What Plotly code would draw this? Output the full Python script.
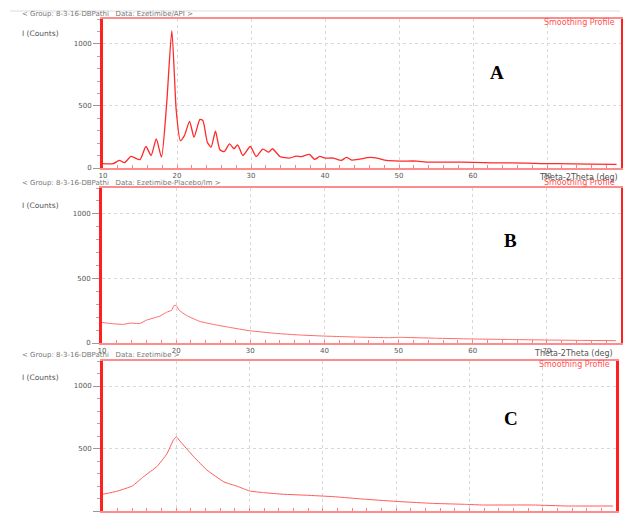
import plotly.graph_objects as go

# ---------------- data ----------------
a_theta = [10.0, 11.35, 12.2, 12.9, 13.8, 15.0, 15.8, 16.5, 17.2, 17.9, 18.6, 19.3, 19.9,
           20.45, 21.0, 21.7, 22.3, 23.1, 23.5, 24.1, 24.6, 25.2, 25.8, 26.4, 27.1, 27.7,
           28.2, 28.9, 29.9, 30.7, 31.6, 32.4, 32.9, 33.9, 35.2, 36.1, 36.8, 37.9, 38.6,
           39.3, 40.0, 41.1, 42.2, 42.9, 43.6, 44.7, 46.1, 47.0, 48.3, 50.1, 52.4, 53.7,
           56.9, 60.0, 62.7, 67.3, 69.5, 71.3, 75.8, 79.4]
a_counts = [35, 35, 61, 43, 93, 67, 173, 101, 235, 88, 515, 1107, 461,
            221, 261, 376, 248, 392, 381, 208, 168, 296, 147, 133, 195, 155,
            187, 101, 173, 93, 152, 128, 155, 93, 80, 96, 91, 109, 69,
            93, 80, 80, 61, 85, 64, 72, 85, 80, 61, 56, 56, 48,
            48, 45, 42, 40, 35, 35, 32, 29]

b_theta = [10.0, 11.1, 12.9, 13.8, 15.1, 16.0, 17.8, 18.7, 19.4, 19.7, 20.0, 20.4, 21.4,
           23.2, 25.0, 27.2, 29.9, 33.5, 36.6, 39.8, 44.3, 48.7, 50.1, 55.0, 60.0, 65.0,
           70.0, 75.0, 79.3]
b_counts = [159, 151, 144, 154, 151, 177, 208, 238, 254, 290, 290, 254, 213,
            167, 144, 121, 95, 74, 62, 54, 46, 41, 44, 37, 31, 27,
            23, 20, 18]

c_theta = [10.0, 11.9, 14.0, 15.5, 17.4, 18.7, 19.6, 20.0, 20.5, 22.4, 24.2, 26.5, 28.3,
           30.0, 31.9, 34.6, 37.8, 41.4, 46.0, 50.5, 55.0, 59.6, 61.8, 68.7, 73.3, 79.6]
c_counts = [134, 158, 200, 273, 358, 455, 567, 594, 559, 433, 326, 233, 198,
            160, 147, 134, 126, 115, 93, 75, 61, 53, 48, 48, 40, 40]

x_ticks = [10, 20, 30, 40, 50, 60, 70, 80]
y_ticks = [0, 500, 1000]
headers = ["< Group: 8-3-16-DBPathi   Data: Ezetimibe/API >",
           "< Group: 8-3-16-DBPathi   Data: Ezetimibe-Placebo/lm >",
           "< Group: 8-3-16-DBPathi   Data: Ezetimibe >"]
letters = ["A", "B", "C"]

# ---------------- layout geometry (pixels) ----------------
W, H = 623, 515
def py(p):
    return 1 - p / H

panels = [
    # x0, x1, ytop, ybottom
    (103, 621, 19, 168),
    (102, 621, 188, 343),
    (103, 616, 361, 511),
]

fig = go.Figure()
series = [(a_theta, a_counts, "#ff2a2a", 1.3), (b_theta, b_counts, "#ff6a6a", 1.0),
          (c_theta, c_counts, "#ff5a5a", 1.0)]
for i, (xs, ys, col, w) in enumerate(series):
    k = "" if i == 0 else str(i + 1)
    fig.add_trace(go.Scatter(x=xs, y=ys, mode="lines",
                             line=dict(color=col, width=w, shape="spline",
                                       smoothing=0.6 if i == 0 else 0.3),
                             xaxis="x" + k, yaxis="y" + k, showlegend=False, hoverinfo="skip"))

tickfont = dict(family="DejaVu Sans", size=7, color="#555555")
for i, (x0, x1, yt, yb) in enumerate(panels):
    k = "" if i == 0 else str(i + 1)
    fig.update_layout(**{
        "xaxis" + k: dict(domain=[x0 / W, x1 / W], range=[10, 80], anchor="y" + k,
                          automargin=False,
                          tickvals=x_ticks, ticks="inside", ticklen=3, tickcolor="#ff8080",
                          tickfont=tickfont, showline=True, linecolor="#ff8c8c", linewidth=2,
                          mirror=True, showgrid=True, gridcolor="#d8d8d8", griddash="dot",
                          gridwidth=1, zeroline=False,
                          minor=dict(dtick=2, ticks="inside", ticklen=3, tickcolor="#ff8080",
                                     showgrid=False)),
        "yaxis" + k: dict(domain=[py(yb), py(yt)], range=[0, 1200], anchor="x" + k,
                          automargin=False,
                          tickvals=y_ticks, ticks="outside", ticklen=7, tickcolor="#999999",
                          tickfont=tickfont, showline=True, linecolor="#ff2020", linewidth=3,
                          mirror=True, showgrid=True, gridcolor="#d8d8d8", griddash="dot",
                          gridwidth=1, zeroline=False,
                          minor=dict(dtick=100, ticks="outside", ticklen=3, tickcolor="#aaaaaa",
                                     showgrid=False)),
    })

ann = []
hdr_y = [14, 183, 355]
cnt_y = [34, 205, 377]
sp_y = [22, 182, 364]
let_pos = [(497, 72), (510, 240), (511, 418)]
for i in range(3):
    ann.append(dict(x=20 / W, y=py(hdr_y[i]), xref="paper", yref="paper", text=headers[i],
                    showarrow=False, xanchor="left", yanchor="middle",
                    font=dict(family="DejaVu Sans", size=7, color="#777777")))
    ann.append(dict(x=20 / W, y=py(cnt_y[i]), xref="paper", yref="paper", text="I (Counts)",
                    showarrow=False, xanchor="left", yanchor="middle",
                    font=dict(family="DejaVu Sans", size=7.5, color="#555555")))
    ann.append(dict(x=(panels[i][1] - 4) / W, y=py(sp_y[i]), xref="paper", yref="paper",
                    text="Smoothing Profile", showarrow=False, xanchor="right", yanchor="middle",
                    font=dict(family="DejaVu Sans", size=8, color="#ff5050")))
    ann.append(dict(x=let_pos[i][0] / W, y=py(let_pos[i][1]), xref="paper", yref="paper",
                    text="<b>" + letters[i] + "</b>", showarrow=False,
                    xanchor="center", yanchor="middle",
                    font=dict(family="Liberation Serif", size=19, color="#000000")))
ann.append(dict(x=620 / W, y=py(177), xref="paper", yref="paper", text="Theta-2Theta (deg)",
                showarrow=False, xanchor="right", yanchor="middle",
                font=dict(family="DejaVu Sans", size=8, color="#555555")))
ann.append(dict(x=532 / W, y=py(353), xref="paper", yref="paper", text="Theta-2Theta (deg)",
                showarrow=False, xanchor="left", yanchor="middle",
                font=dict(family="DejaVu Sans", size=8, color="#555555")))

shapes = [dict(type="line", xref="paper", yref="paper", x0=10 / W, x1=620 / W,
               y0=py(11), y1=py(11), line=dict(color="#dddddd", width=1))]

fig.update_layout(width=W, height=H, margin=dict(l=0, r=0, t=0, b=0, autoexpand=False),
                  paper_bgcolor="white", plot_bgcolor="white",
                  annotations=ann, shapes=shapes)
fig.write_html("out.html", config={"displayModeBar": False},
               post_script="document.body.style.margin='0px';document.body.style.overflow='hidden';")
